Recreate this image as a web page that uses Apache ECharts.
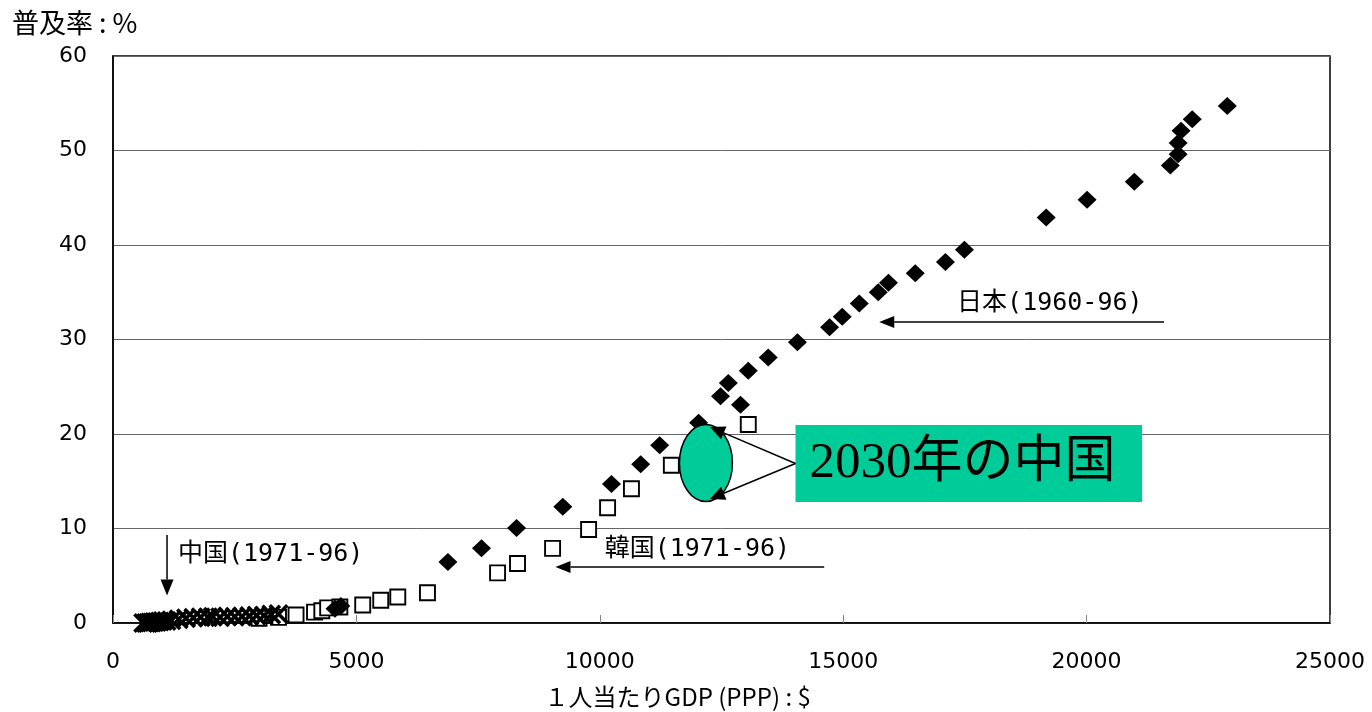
<!DOCTYPE html>
<html>
<head>
<meta charset="utf-8">
<script src="https://cdn.jsdelivr.net/npm/echarts@6/dist/echarts.min.js"></script>
<style>
  html, body { margin: 0; padding: 0; background: #fff; }
  #main { width: 1372px; height: 712px; }
</style>
</head>
<body>
<div id="main"></div>
<script>
// 1人当たりGDP (PPP, $) と普及率 (%)
const japanGdp  = [4560, 4680, 6880, 7570, 8290, 9240, 10240, 10840, 11230, 12030, 12480, 12890, 12640, 13050, 13460, 14060, 14720, 14980, 15330, 15720, 15930, 16480, 17100, 17490, 19170, 20010, 20980, 21720, 21880, 21880, 21940, 22170, 22890];
const japanRate = [1.5, 1.8, 6.45, 7.9, 10.05, 12.3, 14.7, 16.8, 18.8, 21.2, 24.0, 23.1, 25.4, 26.7, 28.1, 29.7, 31.3, 32.4, 33.8, 35.0, 36.0, 37.0, 38.2, 39.5, 42.9, 44.8, 46.7, 48.4, 49.6, 50.8, 52.1, 53.3, 54.7];

const koreaGdp  = [3000, 3400, 3760, 4140, 4290, 4410, 4660, 5130, 5500, 5850, 6460, 7900, 8310, 9030, 9770, 10160, 10650, 11470, 13050];
const koreaRate = [0.5, 0.6, 0.85, 1.15, 1.3, 1.6, 1.7, 1.9, 2.4, 2.75, 3.2, 5.3, 6.3, 7.9, 9.9, 12.2, 14.2, 16.7, 21.0];

const chinaGdp  = [620, 680, 720, 760, 800, 850, 900, 960, 1020, 1100, 1200, 1350, 1500, 1650, 1800, 1950, 2050, 2200, 2350, 2500, 2650, 2800, 2950, 3100, 3250, 3400];
const chinaRate = [0, 0, 0, 0.05, 0.05, 0.1, 0.1, 0.15, 0.2, 0.2, 0.3, 0.4, 0.5, 0.55, 0.6, 0.6, 0.65, 0.6, 0.7, 0.65, 0.7, 0.75, 0.8, 0.8, 0.9, 0.95];

const xTicks = { min: 0, max: 25000, interval: 5000 };
const yTicks = { min: 0, max: 60, interval: 10 };

const yTitle = '普及率 : %';
const xTitle = '１人当たりGDP (PPP) : $';
const labelJapan = '日本(1960-96)';
const labelKorea = '韓国(1971-96)';
const labelChina = '中国(1971-96)';
const calloutText = '2030年の中国';

const zip = (xs, ys) => xs.map((x, i) => [x, ys[i]]);

const TICK_FONT = 'DejaVu Sans';
const JP_FONT = '"DejaVu Sans Mono", "Noto Sans CJK JP", sans-serif';
const GREEN = '#00CC99';
// filled "x" marker
const CROSS = 'path://M0,2L2,0L8,6L14,0L16,2L10,8L16,14L14,16L8,10L2,16L0,14L6,8Z';

const chart = echarts.init(document.getElementById('main'), null, { renderer: 'canvas' });

chart.setOption({
  animation: false,
  backgroundColor: '#fff',
  grid: { left: 113, right: 42, top: 56, bottom: 89, show: true, borderColor: '#000', borderWidth: 1.5, backgroundColor: 'transparent' },
  xAxis: {
    type: 'value', min: xTicks.min, max: xTicks.max, interval: xTicks.interval,
    axisLine: { show: true, lineStyle: { color: '#000', width: 1.5 } },
    axisTick: { show: true, inside: true, length: 8, lineStyle: { color: '#888' } },
    axisLabel: { color: '#000', fontFamily: TICK_FONT, fontSize: 22, margin: 28, formatter: v => String(v) },
    splitLine: { show: false }
  },
  yAxis: {
    type: 'value', min: yTicks.min, max: yTicks.max, interval: yTicks.interval,
    axisLine: { show: true, lineStyle: { color: '#000', width: 1.5 } },
    axisTick: { show: false },
    axisLabel: { color: '#000', fontFamily: TICK_FONT, fontSize: 22, margin: 26, formatter: v => String(v) },
    splitLine: { show: true, lineStyle: { color: '#666', width: 1 } }
  },
  series: [
    {
      name: '韓国', type: 'scatter', data: zip(koreaGdp, koreaRate),
      symbol: 'rect', symbolSize: 15,
      itemStyle: { color: '#fff', borderColor: '#000', borderWidth: 1.9, opacity: 1 },
      emphasis: { disabled: true }, z: 2
    },
    {
      name: '日本', type: 'scatter', data: zip(japanGdp, japanRate),
      symbol: 'diamond', symbolSize: [19, 18],
      itemStyle: { color: '#000', opacity: 1 },
      emphasis: { disabled: true }, z: 3
    },
    {
      name: '中国', type: 'scatter', data: zip(chinaGdp, chinaRate),
      symbol: CROSS, symbolSize: 20,
      itemStyle: { color: '#000', opacity: 1 },
      emphasis: { disabled: true }, z: 4
    }
  ]
});

// annotations are anchored in data coordinates
const px = (x, y) => chart.convertToPixel('grid', [x, y]);

function arrow(p0, p1, headLen, headW) {
  const dx = p1[0] - p0[0], dy = p1[1] - p0[1];
  const len = Math.hypot(dx, dy);
  const ux = dx / len, uy = dy / len;
  const bx = p1[0] - ux * headLen, by = p1[1] - uy * headLen;
  const nx = -uy * headW / 2, ny = ux * headW / 2;
  return [
    { type: 'line', shape: { x1: p0[0], y1: p0[1], x2: bx, y2: by }, style: { stroke: '#000', lineWidth: 1.5 }, z: 20 },
    { type: 'polygon', shape: { points: [[p1[0], p1[1]], [bx + nx, by + ny], [bx - nx, by - ny]] }, style: { fill: '#000' }, z: 20 }
  ];
}

function label(text, x, y) {
  const p = px(x, y);
  return {
    type: 'text', x: p[0], y: p[1], z: 20,
    style: { text, fill: '#000', font: '25px ' + JP_FONT, textAlign: 'left', textVerticalAlign: 'middle' }
  };
}

const graphics = [];

// 日本
graphics.push(...arrow(px(21590, 31.85), px(15740, 31.85), 15, 12));
graphics.push(label(labelJapan, 17340, 33.8));
// 韓国
graphics.push(...arrow(px(14610, 5.93), px(9090, 5.93), 15, 12));
graphics.push(label(labelKorea, 10100, 7.8));
// 中国
graphics.push(...arrow(px(1110, 9.3), px(1110, 2.9), 16, 13));
graphics.push(label(labelChina, 1334, 7.3));

// 2030年の中国 callout
const ec = px(12180, 16.93);
graphics.push({
  type: 'ellipse', shape: { cx: ec[0], cy: ec[1], rx: 26.5, ry: 38.5 },
  style: { fill: GREEN, stroke: '#000', lineWidth: 1.5 }, z: 18
});
const boxTL = px(14020, 20.95), boxBR = px(21140, 12.8);
graphics.push({
  type: 'rect', shape: { x: boxTL[0], y: boxTL[1], width: boxBR[0] - boxTL[0], height: boxBR[1] - boxTL[1] },
  style: { fill: GREEN }, z: 18
});
const boxMid = [boxTL[0], (boxTL[1] + boxBR[1]) / 2];
graphics.push(...arrow(boxMid, [ec[0] + 4, ec[1] - 36], 15, 14));
graphics.push(...arrow(boxMid, [ec[0] + 4, ec[1] + 36], 15, 14));
graphics.push({
  type: 'text', x: boxTL[0] + 14, y: boxMid[1], z: 21,
  style: { text: calloutText, fill: '#000', font: '51px "Liberation Serif", "Noto Sans CJK JP", serif', textAlign: 'left', textVerticalAlign: 'middle' }
});

// axis titles
graphics.push({
  type: 'text', x: 12, y: 23, z: 20,
  style: { text: yTitle, fill: '#000', font: '27px "Noto Sans CJK JP", sans-serif', textAlign: 'left', textVerticalAlign: 'middle' }
});
const xt = px(11600, 0);
graphics.push({
  type: 'text', x: xt[0], y: 697, z: 20,
  style: { text: xTitle, fill: '#000', font: '24px "Noto Sans CJK JP", sans-serif', textAlign: 'center', textVerticalAlign: 'middle' }
});

chart.setOption({ graphic: graphics });
</script>
</body>
</html>
